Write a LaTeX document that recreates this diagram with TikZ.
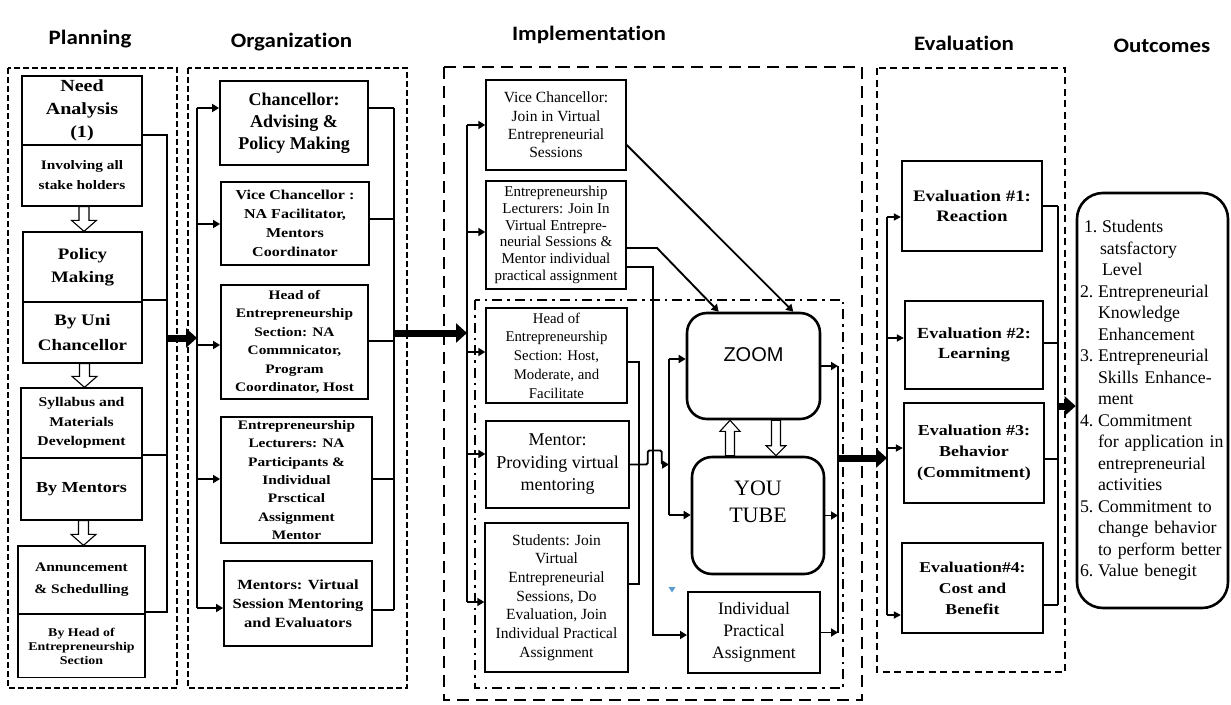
\documentclass[tikz,border=0pt]{standalone}
\usepackage{fontspec}
\setmainfont{Liberation Serif}
\newfontfamily\wideserif{Liberation Serif}[FakeStretch=1.18]
\newfontfamily\headfont{Carlito}[FakeStretch=1.12,Ligatures={NoCommon}]
\newfontfamily\zoomfont{Liberation Sans}
\usetikzlibrary{arrows.meta,calc}
\definecolor{anchorblue}{RGB}{91,155,213}
\newcommand\hollowdown[5]{%
 \path[hollow] let \p1=(#1), \p2=(#2) in
 (\x1-#3,\y1) -- (\x1+#3,\y1) -- (\x1+#3,\y2+#5) -- (\x1+#4,\y2+#5) -- (\x1,\y2)
 -- (\x1-#4,\y2+#5) -- (\x1-#3,\y2+#5) -- cycle;}
\newcommand\hollowup[5]{%
 \path[hollow] let \p1=(#1), \p2=(#2) in
 (\x1-#3,\y1) -- (\x1+#3,\y1) -- (\x1+#3,\y2-#5) -- (\x1+#4,\y2-#5) -- (\x1,\y2)
 -- (\x1-#4,\y2-#5) -- (\x1-#3,\y2-#5) -- cycle;}
\newcommand\itm[1]{\makebox[18pt][l]{#1}}
\newcommand\ind{\hspace*{18pt}}
\begin{document}
\begin{tikzpicture}[x=1pt,y=-1pt,
 conn/.style={line width=1.9pt},
 arr/.style={line width=1.9pt, -{Triangle[length=7pt,width=8pt]}},
 thinarr/.style={line width=1.6pt, -{Triangle[length=7pt,width=7pt]}},
 bigarr/.style={line width=7pt, -{Triangle[length=11pt,width=19pt]}},
 hollow/.style={draw, fill=white, line width=1.1pt},
 bw/.style 2 args={font=\wideserif\bfseries\fontsize{#1}{#2}\selectfont},
 bn/.style 2 args={font=\bfseries\fontsize{#1}{#2}\selectfont},
 rm/.style 2 args={font=\fontsize{#1}{#2}\selectfont},
 pbox/.style={draw, line width=1.3pt, inner sep=0pt, align=center},
 obox/.style={draw, line width=1.9pt, inner sep=0pt, align=center},
 ibox/.style={draw, line width=1.4pt, inner sep=0pt, align=center},
 rbox/.style={draw, line width=2.6pt, rounded corners=20pt, inner sep=0pt, align=center},
 ebox/.style={draw, line width=2.3pt, inner sep=0pt, align=center},
 hd/.style={font=\headfont\bfseries\fontsize{20.5}{24}\selectfont, anchor=base},
 frameP/.style={line width=2.6pt, dash pattern=on 6pt off 3pt},
 frameI/.style={line width=2.4pt, dash pattern=on 12pt off 7pt},
 frameD/.style={line width=2pt, dash pattern=on 10pt off 5pt on 2.5pt off 5pt},
 frameE/.style={line width=1.4pt, dash pattern=on 7pt off 4.5pt}]
\useasboundingbox (0,0) rectangle (1231,704);
\fill[white] (0,0) rectangle (1231,704);

% headers
\node[hd] (hP) at (90,44) {Planning};
\node[hd] (hO) at (291.5,47) {Organization};
\node[hd] (hI) at (589,40) {Implementation};
\node[hd] (hE) at (964,50) {Evaluation};
\node[hd] (hOut) at (1162,52) {Outcomes};

% frames
\draw[frameP] (8,68) rectangle (177,688);
\draw[frameP] (188,68) rectangle (407,688);
\draw[frameI] (444,67) rectangle (862,700);
\draw[frameD] (475,300) rectangle (843,688);
\draw[frameE] (877,68) rectangle (1065,672);

% ---------- Planning
\node[pbox, bw={17}{23}, minimum width=120pt, minimum height=69pt] (P1a) at (82,110.5) {Need\\Analysis\\(1)};
\node[pbox, bw={13}{20}, minimum width=120pt, minimum height=61pt] (P1b) at (82,175.5) {Involving all\\stake holders};
\node[pbox, bw={16}{23}, minimum width=119pt, minimum height=70pt] (P2a) at (82.5,267) {Policy\\Making};
\node[pbox, bw={16}{25}, minimum width=119pt, minimum height=61pt] (P2b) at (82.5,332.5) {By Uni\\Chancellor};
\node[pbox, bw={13.3}{19.5}, minimum width=121pt, minimum height=70pt] (P3a) at (81.5,423) {Syllabus and\\Materials\\Development};
\node[pbox, bw={15.3}{19}, minimum width=121pt, minimum height=62pt] (P3b) at (81.5,489) {By Mentors};
\node[pbox, bw={13.1}{22}, minimum width=127pt, minimum height=68pt] (P4a) at (81.5,580) {Annuncement\\\& Schedulling};
\node[pbox, bw={11.8}{14}, minimum width=127pt, minimum height=63pt] (P4b) at (81.5,646) {By Head of\\Entrepreneurship\\Section};

\hollowdown{[xshift=2pt]P1b.south}{[xshift=2pt]P2a.north}{5pt}{12.5pt}{11pt}
\hollowdown{[xshift=2pt]P2b.south}{[xshift=2pt]P3a.north}{5pt}{12.5pt}{11pt}
\hollowdown{[xshift=2pt]P3b.south}{[xshift=2pt]P4a.north}{5pt}{12.5pt}{11pt}

\coordinate (pbot) at (167,611);
\coordinate (pmid) at (167,338);
\draw[conn] ([yshift=11pt]P1a.south east) -| (pbot);
\draw[conn] ([yshift=3pt]P2a.south east) -| (pbot);
\draw[conn] ([yshift=4pt]P3a.south east) -| (pbot);
\draw[conn] ([yshift=3pt]P4a.south east) -| (pbot);

% ---------- Organization
\node[obox, bn={18}{22}, minimum width=148pt, minimum height=84pt] (O1) at (294,123) {Chancellor:\\Advising \&\\Policy Making};
\node[obox, bw={13.6}{19}, minimum width=148pt, minimum height=83pt] (O2) at (295,223.5) {Vice Chancellor :\\NA Facilitator,\\Mentors\\Coordinator};
\node[obox, bw={13}{18.5}, minimum width=147pt, minimum height=114pt] (O3) at (294.5,342) {Head of\\Entrepreneurship\\Section: NA\\Commnicator,\\Program\\Coordinator, Host};
\node[obox, bw={13}{18.3}, minimum width=151pt, minimum height=126pt] (O4) at (296.5,480) {Entrepreneurship\\Lecturers: NA\\Participants \&\\Individual\\Prsctical\\Assignment\\Mentor};
\node[obox, bw={14}{19}, minimum width=148pt, minimum height=85pt] (O5) at (298,603.5) {Mentors: Virtual\\Session Mentoring\\and Evaluators};

\coordinate (ol1) at (197,108);
\coordinate (ol2) at (197,224);
\coordinate (ol3) at (197,345);
\coordinate (ol4) at (197,479);
\coordinate (ol5) at (197,608);
\coordinate (omid) at (197,338);
\draw[conn] (ol1) -- (ol5);
\draw[arr] (ol1) -- (ol1 -| O1.west);
\draw[arr] (ol2) -- (ol2 -| O2.west);
\draw[arr] (ol3) -- (ol3 -| O3.west);
\draw[arr] (ol4) -- (ol4 -| O4.west);
\draw[arr] (ol5) -- (ol5 -| O5.west);

\coordinate (or1) at (394,108);
\coordinate (or2) at (394,219);
\coordinate (or3) at (394,341);
\coordinate (or4) at (394,479);
\coordinate (or5) at (394,610);
\coordinate (orm) at (394,333);
\draw[conn] (or1) -- (or5);
\draw[conn] (or1 -| O1.east) -- (or1);
\draw[conn] (or2 -| O2.east) -- (or2);
\draw[conn] (or3 -| O3.east) -- (or3);
\draw[conn] (or4 -| O4.east) -- (or4);
\draw[conn] (or5 -| O5.east) -- (or5);

\draw[bigarr] (pmid) -- (omid);

% ---------- Implementation
\node[ibox, rm={15.5}{18.4}, minimum width=140pt, minimum height=90pt] (I1) at (556,125) {Vice Chancellor:\\Join in Virtual\\Entrepreneurial\\Sessions};
\node[ibox, rm={15}{16.8}, minimum width=140pt, minimum height=108pt] (I2) at (556,235) {Entrepreneurship\\Lecturers: Join In\\Virtual Entrepre-\\neurial Sessions \&\\Mentor individual\\practical assignment};
\node[ibox, rm={14.8}{18.7}, minimum width=141pt, minimum height=95pt] (I3) at (556.5,355.5) {Head of\\Entrepreneurship\\Section: Host,\\Moderate, and\\Facilitate};
\node[ibox, rm={18}{22.5}, minimum width=143pt, minimum height=87pt] (I4) at (557.5,464.5) {Mentor:\\Providing virtual\\mentoring};
\node[ibox, rm={15.5}{18.7}, minimum width=143pt, minimum height=149pt] (I5) at (556.5,597.5) {Students: Join\\Virtual\\Entrepreneurial\\Sessions, Do\\Evaluation, Join\\Individual Practical\\Assignment};
\node[rbox, minimum width=133pt, minimum height=106pt,
 label={[name=Zt, yshift=11pt, font=\zoomfont\fontsize{20}{24}\selectfont]center:ZOOM}] (Z) at (753.5,366) {};
\node[rbox, minimum width=132pt, minimum height=117pt,
 label={[name=YTt, yshift=14pt, align=center, font=\fontsize{22}{27}\selectfont]center:YOU\\TUBE}] (YT) at (758,515.5) {};
\node[ibox, line width=2pt, rm={17.5}{22}, minimum width=132pt, minimum height=81pt] (IPA) at (754,632.5) {Individual\\Practical\\Assignment};

\hollowup{[xshift=-28pt]YT.north}{[xshift=-28pt]Z.south}{4.5pt}{10pt}{11pt}
\hollowdown{[xshift=22.5pt]Z.south}{[xshift=22.5pt]YT.north}{4.5pt}{10pt}{10pt}

\fill[anchorblue] (668.5,587) -- (675.5,587) -- (672,592.5) -- cycle;

\coordinate (il1) at (467,125);
\coordinate (il2) at (467,232);
\coordinate (il3) at (467,352);
\coordinate (il4) at (467,454);
\coordinate (il5) at (467,602);
\coordinate (ilm) at (467,333);
\draw[conn] (il1) -- (il5);
\draw[arr] (il1) -- (il1 -| I1.west);
\draw[arr] (il2) -- (il2 -| I2.west);
\draw[arr] (il3) -- (il3 -| I3.west);
\draw[arr] (il4) -- (il4 -| I4.west);
\draw[arr] (il5) -- (il5 -| I5.west);
\draw[bigarr] (orm) -- (ilm);

% VC -> ZOOM
\draw[arr] ([yshift=-20pt]I1.east) -- ([xshift=-28pt]Z.north east);
% Lecturers -> ZOOM
\coordinate (elb) at (657,248);
\draw[arr] ([yshift=-13pt]I2.east) -- (elb) -- ([xshift=33pt]Z.north west);
% Lecturers -> Individual practical assignment
\coordinate (eld) at (653,635);
\draw[arr] ([yshift=-32pt]I2.east) -| (eld) -- (eld -| IPA.west);
% Head / Students bracket
\coordinate (hs1) at (639,362);
\coordinate (hs2) at (639,584);
\draw[conn] ([yshift=-6.5pt]I3.east) -- (hs1) -- (hs2) -- ([yshift=13.5pt]I5.east);
% Mentor -> bracket (with hop)
\coordinate (mb) at (669,464.5);
\draw[arr, rounded corners=1.5pt] (I4.east) -- ++(18,0) -- ++(0,-14) -- ++(14,0) -- ++(0,14) -- (mb);
\coordinate (mt) at (669,359);
\coordinate (mbt) at (669,515);
\draw[conn] (mt) -- (mbt);
\draw[arr] (mt) -- (mt -| Z.west);
\draw[arr] (mbt) -- (mbt -| YT.west);
% right bracket
\coordinate (rv1) at (838,366);
\coordinate (rv2) at (838,632.5);
\coordinate (rvm) at (838,458);
\draw[conn] (rv1) -- (rv2);
\draw[arr] (Z.east) -- (Z.east -| rv1);
\draw[arr] (YT.east) -- (YT.east -| rv1);
\draw[arr] (IPA.east) -- (IPA.east -| rv1);

% ---------- Evaluation
\node[ebox, bw={16}{20}, minimum width=140pt, minimum height=90pt] (E1) at (972,206) {Evaluation \#1:\\Reaction};
\node[ebox, bw={15.4}{20}, minimum width=138pt, minimum height=88pt] (E2) at (974,345) {Evaluation \#2:\\Learning};
\node[ebox, bw={15.2}{21}, minimum width=140pt, minimum height=100pt] (E3) at (974,453) {Evaluation \#3:\\Behavior\\(Commitment)};
\node[ebox, bw={15}{21}, minimum width=141pt, minimum height=90pt] (E4) at (972.5,588) {Evaluation\#4:\\Cost and\\Benefit};

\coordinate (el1) at (887,217);
\coordinate (el2) at (887,338);
\coordinate (el3) at (887,448);
\coordinate (el4) at (887,615);
\coordinate (elm) at (887,458);
\draw[line width=1.6pt] (el1) -- (el4);
\draw[thinarr] (el1) -- (el1 -| E1.west);
\draw[thinarr] (el2) -- (el2 -| E2.west);
\draw[thinarr] (el3) -- (el3 -| E3.west);
\draw[thinarr] (el4) -- (el4 -| E4.west);
\draw[bigarr] (rvm) -- (elm);

\coordinate (er1) at (1058,206);
\coordinate (er2) at (1058,343);
\coordinate (er3) at (1058,459);
\coordinate (er4) at (1058,605);
\coordinate (erm) at (1058,406);
\draw[line width=1.6pt] (er1) -- (er4);
\draw[line width=1.6pt] (er1 -| E1.east) -- (er1);
\draw[line width=1.6pt] (er2 -| E2.east) -- (er2);
\draw[line width=1.6pt] (er3 -| E3.east) -- (er3);
\draw[line width=1.6pt] (er4 -| E4.east) -- (er4);

% ---------- Outcomes
\node[rbox, rounded corners=26pt, rm={17.8}{21.5}, align=left, text width=145pt, inner sep=3pt,
 minimum width=151pt, minimum height=415pt] (OUT) at (1152.5,400.5)
{\hspace*{4pt}\itm{1.}Students\\
\hspace*{20pt}satsfactory\\
\hspace*{22pt}Level\\
\itm{2.}Entrepreneurial\\
\ind Knowledge\\
\ind Enhancement\\
\itm{3.}Entrepreneurial\\
\ind Skills Enhance-\\
\ind ment\\
\itm{4.}Commitment\\
\ind for application in\\
\ind entrepreneurial\\
\ind activities\\
\itm{5.}Commitment to\\
\ind change behavior\\
\ind to perform better\\
\itm{6.}Value benegit};
\draw[bigarr] (erm) -- (erm -| OUT.west);
\end{tikzpicture}
\end{document}
